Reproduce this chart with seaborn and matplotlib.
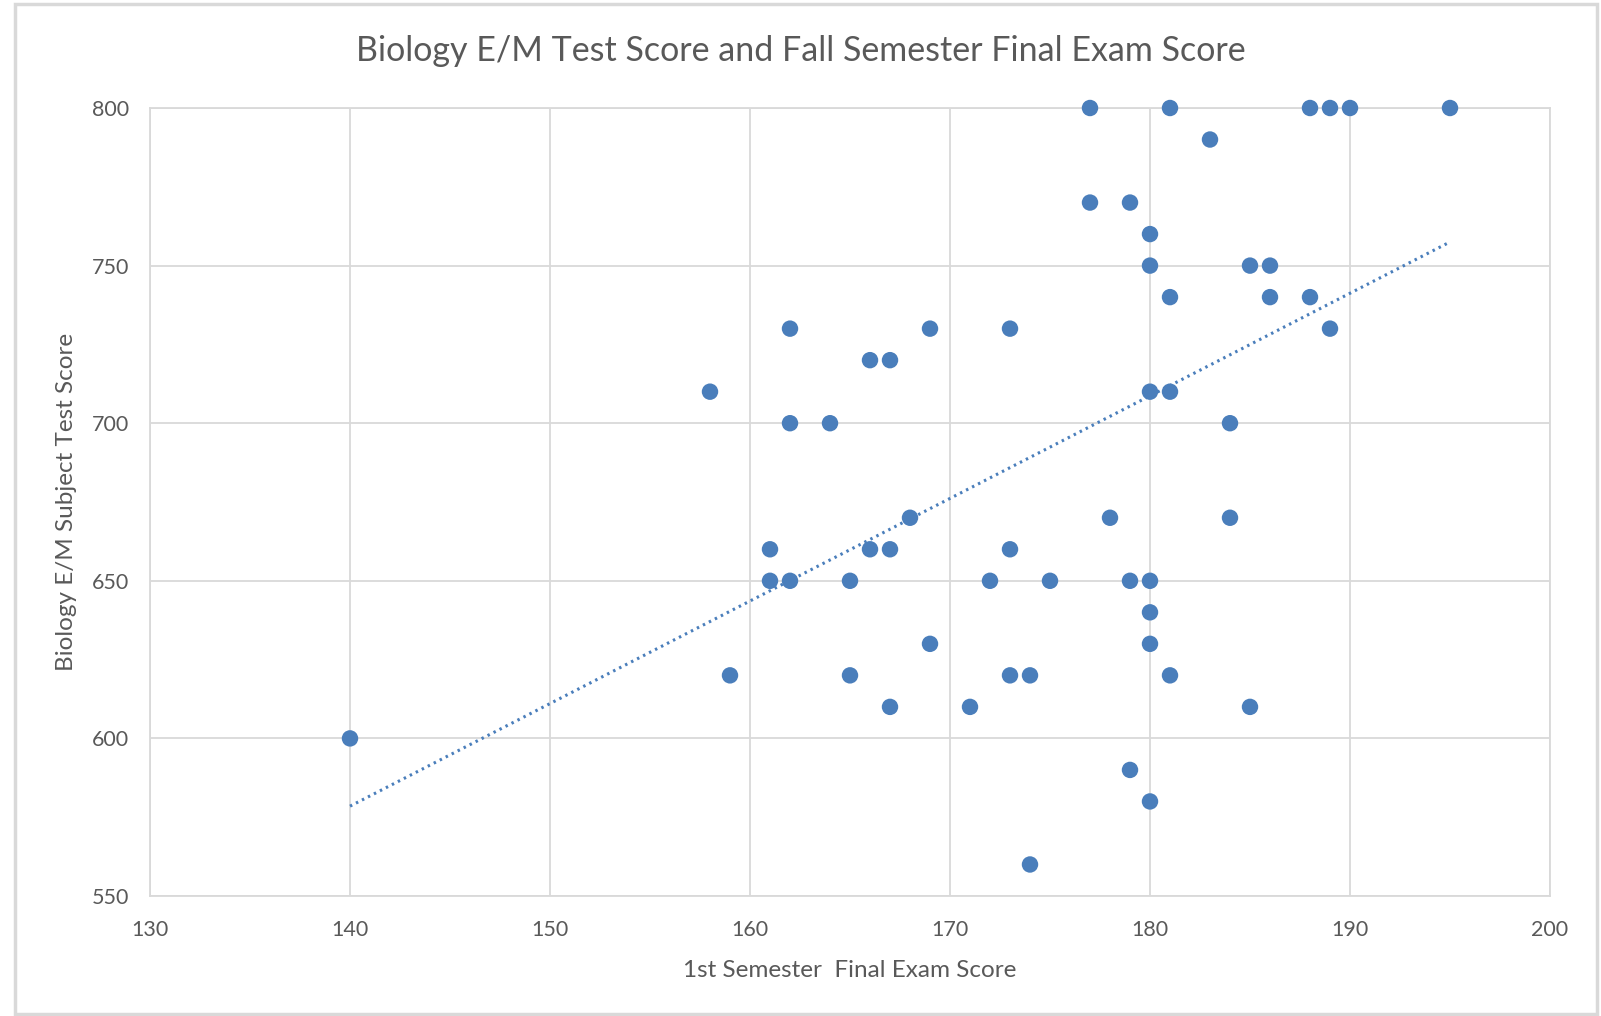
import numpy as np
import pandas as pd
import matplotlib
matplotlib.use("Agg")
import matplotlib.pyplot as plt
import seaborn as sns
from matplotlib.patches import Rectangle

# 1st semester final exam score vs Biology E/M subject test score
exam_score = [140, 158, 159, 161, 161, 162, 162, 162, 164, 165, 165, 166, 166,
              167, 167, 167, 168, 169, 169, 171, 172, 173, 173, 173, 174, 174,
              175, 177, 177, 178, 179, 179, 179, 180, 180, 180, 180, 180, 180,
              180, 181, 181, 181, 181, 183, 184, 184, 185, 185, 186, 186, 188,
              188, 189, 189, 190, 195]
test_score = [600, 710, 620, 660, 650, 730, 700, 650, 700, 650, 620, 720, 660,
              720, 660, 610, 670, 730, 630, 610, 650, 730, 660, 620, 620, 560,
              650, 800, 770, 670, 770, 650, 590, 760, 750, 710, 650, 640, 630,
              580, 800, 740, 710, 620, 790, 700, 670, 750, 610, 750, 740, 800,
              740, 800, 730, 800, 800]
# linear trendline ends
trend_x = [140, 195]
trend_y = [578.5, 757.5]
x_ticks = [130, 140, 150, 160, 170, 180, 190, 200]
y_ticks = [550, 600, 650, 700, 750, 800]

df = pd.DataFrame({"exam": exam_score, "test": test_score})
trend = pd.DataFrame({"exam": trend_x, "test": trend_y})

sns.set_theme(style="white")
plt.rcParams['font.family'] = ['Lato', 'DejaVu Sans']

blue = "#4a7ebb"
gray_txt = "#595959"
grid_c = "#d9d9d9"

fig = plt.figure(figsize=(16.01, 10.16), dpi=100)
ax = fig.add_axes([150 / 1601, 1 - 896 / 1016, 1400 / 1601, 788 / 1016])

sns.lineplot(data=trend, x="exam", y="test", ax=ax, color=blue, lw=2.2,
             linestyle=(0, (0.8, 1.4)), zorder=2)

sns.scatterplot(data=df, x="exam", y="test", ax=ax, color=blue, s=140,
                edgecolor="none", zorder=3, clip_on=False)

ax.set_xlim(130, 200)
ax.set_ylim(550, 800)
ax.set_xticks(x_ticks)
ax.set_yticks(y_ticks)
ax.grid(True, color=grid_c, lw=1.3)
ax.set_axisbelow(True)
for s in ax.spines.values():
    s.set_color(grid_c)
    s.set_linewidth(1.3)
ax.tick_params(length=0, labelsize=15.5, colors=gray_txt)
ax.tick_params(axis="y", pad=15)
ax.tick_params(axis="x", pad=17)

ax.set_xlabel("1st Semester  Final Exam Score", fontsize=17.5, color=gray_txt,
              labelpad=15)
ax.set_ylabel("Biology E/M Subject Test Score", fontsize=17.5, color=gray_txt,
              labelpad=11)
fig.text(0.5, 1 - 51 / 1016, "Biology E/M Test Score and Fall Semester Final Exam Score",
         ha="center", va="center", fontsize=24.5, color=gray_txt)

# chart border
fig.patches.append(Rectangle((15 / 1601, 2 / 1016), 1582 / 1601, 1010 / 1016,
                             transform=fig.transFigure, fill=False,
                             edgecolor=grid_c, lw=2.5))

fig.savefig("out.png", dpi=100)
